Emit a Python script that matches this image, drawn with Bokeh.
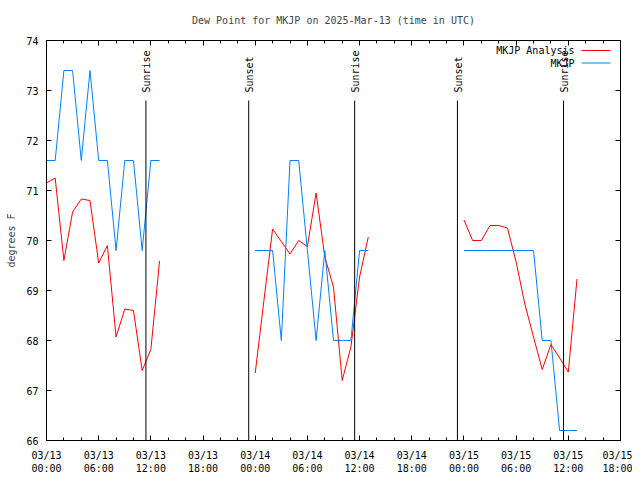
import math
import numpy as np
import pandas as pd
from bokeh.plotting import figure
from bokeh.models import (FixedTicker, DatetimeAxis, LinearAxis, Range1d, Label, Arrow)
from bokeh.core.properties import value
from bokeh.embed import file_html
from bokeh.resources import INLINE

# ---------------- data ----------------
title_text = "Dew Point for MKJP on 2025-Mar-13 (time in UTC)"
start_time = "2025-03-13 00:00"
end_time = "2025-03-15 18:00"

# hourly segments (hours since 03/13 00:00 UTC)
seg_hours = [list(range(0, 14)), list(range(24, 38)), list(range(48, 62))]

# MKJP observations (deg F)
obs_seg1 = [71.6, 71.6, 73.4, 73.4, 71.6, 73.4, 71.6, 71.6, 69.8, 71.6, 71.6, 69.8, 71.6, 71.6]
obs_seg2 = [69.8, 69.8, 69.8, 68.0, 71.6, 71.6, 69.8, 68.0, 69.8, 68.0, 68.0, 68.0, 69.8, 69.8]
obs_seg3 = [69.8, 69.8, 69.8, 69.8, 69.8, 69.8, 69.8, 69.8, 69.8, 68.0, 68.0, 66.2, 66.2, 66.2]

# MKJP analysis (deg F)
ana_seg1 = [71.15, 71.25, 69.6, 70.57, 70.83, 70.8, 69.55, 69.9, 68.07, 68.63, 68.6, 67.4, 67.82, 69.59]
ana_seg2 = [67.35, 68.8, 70.23, 69.98, 69.73, 70.0, 69.88, 70.95, 69.67, 69.07, 67.2, 67.87, 69.27, 70.07]
ana_seg3 = [70.41, 70.0, 70.0, 70.3, 70.3, 70.25, 69.57, 68.73, 68.07, 67.42, 67.92, 67.65, 67.37, 69.23]

sun_event_names = ["Sunrise", "Sunset", "Sunrise", "Sunset", "Sunrise"]
sun_event_times = ["2025-03-13 11:26", "2025-03-13 23:15", "2025-03-14 11:26",
                   "2025-03-14 23:15", "2025-03-15 11:27"]

x_tick_hours = list(range(0, 67, 6))
x_tick_labels = ["03/13\n00:00", "03/13\n06:00", "03/13\n12:00", "03/13\n18:00",
                 "03/14\n00:00", "03/14\n06:00", "03/14\n12:00", "03/14\n18:00",
                 "03/15\n00:00", "03/15\n06:00", "03/15\n12:00", "03/15\n18:00"]
x_minor_hours = list(range(0, 67, 2))
y_ticks = [66, 67, 68, 69, 70, 71, 72, 73, 74]

series_names = ["MKJP Analysis", "MKJP"]
series_colors = ["#ff0000", "#0080ff"]

# ---------------- helpers ----------------
t0 = pd.Timestamp(start_time)
def hours_to_time(hs):
    return [t0 + pd.Timedelta(hours=h) for h in hs]
def to_ms(ts):
    return int(pd.Timestamp(ts).timestamp() * 1000)

FONT = "DejaVu Sans Mono"
FS = "10px"

p = figure(width=632, height=478, x_axis_type="datetime",
           x_range=Range1d(pd.Timestamp(start_time), pd.Timestamp(end_time)),
           y_range=Range1d(66, 74),
           output_backend="svg", toolbar_location=None,
           min_border_left=46, min_border_right=12, min_border_top=40, min_border_bottom=38,
           title=title_text)
p.title.text_font = FONT
p.title.text_font_size = FS
p.title.text_font_style = "normal"
p.title.align = "center"
p.title.vertical_align = "middle"
p.title.standoff = 27
p.xgrid.visible = False
p.ygrid.visible = False
p.outline_line_color = "black"
p.outline_line_alpha = 1
p.outline_line_width = 1
p.background_fill_color = "white"
p.border_fill_color = "white"

major_ms = [to_ms(t) for t in hours_to_time(x_tick_hours)]
minor_ms = [to_ms(t) for t in hours_to_time(x_minor_hours)]
x_ticker = FixedTicker(ticks=major_ms, minor_ticks=minor_ms)
y_ticker = FixedTicker(ticks=y_ticks, minor_ticks=[])

def style_axis(ax):
    ax.major_tick_in = 5
    ax.major_tick_out = 0
    ax.minor_tick_in = 3
    ax.minor_tick_out = 0
    ax.axis_line_color = "black"
    ax.major_tick_line_color = "black"
    ax.minor_tick_line_color = "black"
    ax.major_label_text_font = FONT
    ax.major_label_text_font_size = FS
    ax.major_label_text_color = "black"

xa = p.xaxis[0]
xa.ticker = x_ticker
xa.major_label_overrides = {ms: lab for ms, lab in zip(major_ms, x_tick_labels)}
style_axis(xa)
xa.major_label_standoff = 9

ya = p.yaxis[0]
ya.ticker = y_ticker
style_axis(ya)
ya.major_label_standoff = 8
ya.axis_label = "degrees F"
ya.axis_label_text_font = FONT
ya.axis_label_text_font_size = FS
ya.axis_label_text_font_style = "normal"
ya.axis_label_standoff = 6

top_ax = DatetimeAxis(ticker=x_ticker)
style_axis(top_ax)
top_ax.major_label_overrides = {ms: "" for ms in major_ms}
top_ax.major_label_standoff = 0
p.add_layout(top_ax, "above")

right_ax = LinearAxis(ticker=y_ticker)
style_axis(right_ax)
right_ax.major_label_overrides = {v: "" for v in y_ticks}
right_ax.major_label_standoff = 0
p.add_layout(right_ax, "right")

# series
ana_segs = [ana_seg1, ana_seg2, ana_seg3]
obs_segs = [obs_seg1, obs_seg2, obs_seg3]
for hs, vals in zip(seg_hours, ana_segs):
    p.line(hours_to_time(hs), vals, line_color=series_colors[0], line_width=1)
for hs, vals in zip(seg_hours, obs_segs):
    p.line(hours_to_time(hs), vals, line_color=series_colors[1], line_width=1)

# sunrise / sunset markers
sun_t = [pd.Timestamp(t) for t in sun_event_times]
p.segment(x0=sun_t, y0=[66] * len(sun_t), x1=sun_t, y1=[72.8] * len(sun_t),
          line_color="black", line_width=1)
p.text(x=sun_t, y=[72.96] * len(sun_t), text=sun_event_names, angle=math.pi / 2,
       text_align="left", text_baseline="middle", x_offset=1,
       text_font=value(FONT), text_font_size=FS, text_color="black")

# legend (gnuplot style: text, then sample line)
leg_y = [390, 377.5]
for name, col, yy in zip(series_names, series_colors, leg_y):
    p.add_layout(Label(x=528, y=yy, x_units="screen", y_units="screen", text=name,
                       text_align="right", text_baseline="middle",
                       text_font=FONT, text_font_size=FS, text_color="black"))
    p.add_layout(Arrow(end=None, x_start=535, y_start=yy, x_end=564, y_end=yy,
                       start_units="screen", end_units="screen",
                       line_color=col, line_width=1))

open("out.html", "w").write(file_html(p, INLINE))
